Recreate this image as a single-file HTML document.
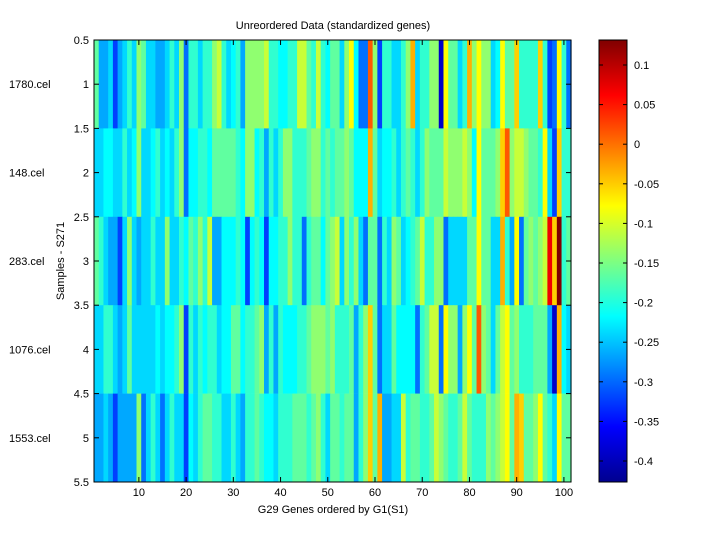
<!DOCTYPE html>
<html><head><meta charset="utf-8"><style>body{margin:0;background:#fff}svg{display:block}text{font-family:"Liberation Sans",sans-serif;font-size:11px;fill:#000}</style></head>
<body>
<svg id="s" width="720" height="540" xmlns="http://www.w3.org/2000/svg">
<defs><linearGradient id="jet" x1="0" y1="1" x2="0" y2="0">
<stop offset="0" stop-color="#00008f"/><stop offset="0.125" stop-color="#0000ff"/><stop offset="0.375" stop-color="#00ffff"/><stop offset="0.625" stop-color="#ffff00"/><stop offset="0.875" stop-color="#ff0000"/><stop offset="1" stop-color="#800000"/></linearGradient></defs>
<g id="hm"></g>
<rect x="599" y="40" width="28" height="442" fill="url(#jet)" stroke="#000"/>
<g id="ax"></g>
<text x="333" y="29" text-anchor="middle">Unreordered Data (standardized genes)</text>
<text x="333" y="513" text-anchor="middle">G29 Genes ordered by G1(S1)</text>
<text transform="translate(64,261) rotate(-90)" text-anchor="middle">Samples - S271</text>
</svg>
<script>
var P={D:"#0000c8",B:"#0040ff",b:"#0070ff",s:"#00a8ff",c:"#00d8ff",C:"#00ffff",t:"#30ffd0",g:"#60ffa0",G:"#90ff70",y:"#c8ff38",Y:"#ffff00",o:"#ffd000",O:"#ffb000",R:"#ff5800",r:"#f00000",M:"#800000"};
var rows=[
"g s s c B s c t c G g c c s s c t c G b t t c t t "+"G y t c C t s G G G G y t t C C t t y y g t y t C "+"g g c G Y C b b R G B t t c c t G O c t t G G D Y "+"g g c t O G Y G G c C Y g g o t t t t o t B b Y t b",
"c c C C c c t c C G c c C t c C c t G b C C t t C "+"g g g g g t C G G C t s t c t G G t t t g G G t g "+"t g g G g C C C O g c C C t c t g t c t G g g g y "+"G G G y G C Y g g g G o R G y y G g g t Y c B o t t",
"g t c s s B c G c s c c t c c G c c t C g t G t y "+"s s C C C t C B C t C B C C t t G t t b t g g C g "+"G y c G t G c b g g b t c G g c C t g y t t G G b "+"c c c c g g Y g g c c O t s Y b g G g G y r o M t g",
"c c t t c s c g c c c c c C c C C t G B t c t C t "+"t c C C g g C t t g G s t s t C C C t t g G G G g "+"G t t t g s t G o g b c c g C C C C b t g y y b Y "+"G G s G Y g R G g c g y Y g G t t t g g g s D O C c",
"s s c s B s s s s G b c t c b c t c c B C c t g g "+"t t c c t c s t t g t C C c t t t g g g t g G t c "+"g g t g g s t G o g O s s c c y t g g t t g y G g "+"t t g y g t t t G g G y Y g O o g g G Y g t c Y g g"];
var ns="http://www.w3.org/2000/svg",hm=document.getElementById("hm"),ax=document.getElementById("ax");
var X0=94,W=477/101,Y0=40,H=442/5;
function el(t,a,p,tx){var e=document.createElementNS(ns,t);for(var k in a)e.setAttribute(k,a[k]);if(tx)e.textContent=tx;(p||ax).appendChild(e);return e;}
rows.forEach(function(r,i){var c=r.split(" ");for(var j=0;j<101;j++){var k=c[j]||"t";el("rect",{x:X0+j*W,y:Y0+i*H,width:W+0.6,height:H+0.3,fill:P[k]||P.t},hm);}});
el("rect",{x:94,y:40,width:477,height:442,fill:"none",stroke:"#000"});
for(var v=10;v<=100;v+=10){var x=X0+(v-0.5)*W;el("line",{x1:x,x2:x,y1:482,y2:477,stroke:"#000"});el("line",{x1:x,x2:x,y1:40,y2:45,stroke:"#000"});el("text",{x:x,y:496,"text-anchor":"middle"},null,""+v);}
var yl=["0.5","1","1.5","2","2.5","3","3.5","4","4.5","5","5.5"];
for(var i=0;i<11;i++){var y=40+i*44.2;el("line",{x1:94,x2:99,y1:y,y2:y,stroke:"#000"});el("line",{x1:571,x2:566,y1:y,y2:y,stroke:"#000"});el("text",{x:89,y:y+4,"text-anchor":"end"},null,yl[i]);}
var nm=["1780.cel","148.cel","283.cel","1076.cel","1553.cel"];
nm.forEach(function(n,i){el("text",{x:9,y:40+(i+0.5)*H+4},null,n);});
var cl=["0.1","0.05","0","-0.05","-0.1","-0.15","-0.2","-0.25","-0.3","-0.35","-0.4"];
for(var i=0;i<11;i++){var y=65+i*39.6;el("line",{x1:599,x2:603,y1:y,y2:y,stroke:"#000"});el("line",{x1:627,x2:623,y1:y,y2:y,stroke:"#000"});el("text",{x:634,y:y+4},null,cl[i]);}
</script>
</body></html>
